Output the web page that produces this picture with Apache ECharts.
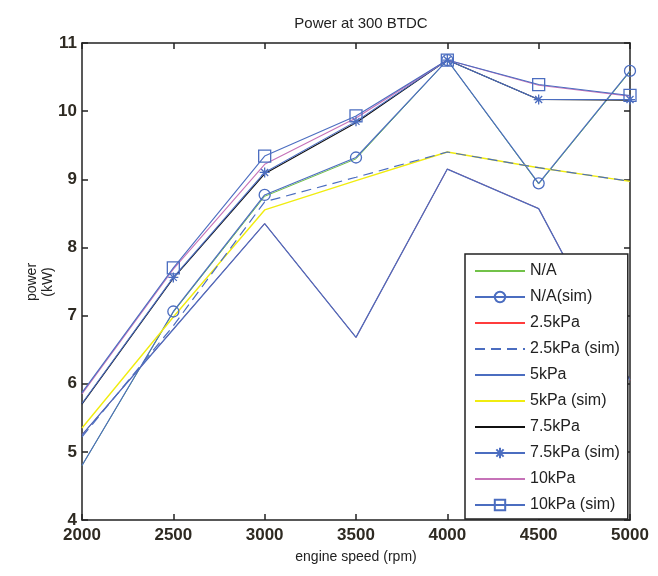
<!DOCTYPE html>
<html>
<head>
<meta charset="utf-8">
<script src="https://cdn.jsdelivr.net/npm/echarts@6/dist/echarts.min.js"></script>
<style>
html,body{margin:0;padding:0;background:#fff;}
#chart{width:658px;height:576px;}
</style>
</head>
<body>
<div id="chart"></div>
<script>
// ---- data ----
var speeds = [2000, 2500, 3000, 3500, 4000, 4500, 5000];
var xTicks = [2000, 2500, 3000, 3500, 4000, 4500, 5000];
var yTicks = [4, 5, 6, 7, 8, 9, 10, 11];
var naExp    = [4.80, 7.05, 8.75, 9.30, 10.75, 8.93, 10.58];
var naSim    = [4.80, 7.06, 8.77, 9.32, 10.75, 8.94, 10.59];
var p25Exp   = [5.25, 6.80, 8.35, 6.68, 9.15, 8.57, 6.05];
var p25Sim   = [5.22, 6.85, 8.67, 9.03, 9.40, 9.17, 8.97];
var p5Exp    = [5.25, 6.80, 8.35, 6.68, 9.15, 8.57, 6.05];
var p5Sim    = [5.35, 6.98, 8.55, 8.98, 9.40, 9.17, 8.97];
var p75Exp   = [5.70, 7.55, 9.08, 9.83, 10.75, 10.17, 10.16];
var p75Sim   = [5.71, 7.56, 9.10, 9.85, 10.75, 10.17, 10.17];
var p10Exp   = [5.85, 7.68, 9.22, 9.90, 10.75, 10.38, 10.22];
var p10Sim   = [5.87, 7.70, 9.34, 9.93, 10.75, 10.39, 10.23];
var seriesNames = ['N/A', 'N/A(sim)', '2.5kPa', '2.5kPa (sim)', '5kPa', '5kPa (sim)', '7.5kPa', '7.5kPa (sim)', '10kPa', '10kPa (sim)'];

function pts(arr) {
  return speeds.map(function (s, i) {
    var d = { value: [s, arr[i]] };
    if (s === xTicks[0]) d.symbol = 'none'; // marker hidden at the clipped left edge
    return d;
  });
}

var BLUE = '#4b6dc0', GREEN = '#72c249', RED = '#ff3c3c', YELLOW = '#f0ec10', BLACK = '#111', MAG = '#c672b8';
var STAR = 'path://M5 0L5 10M0 5L10 5M1.5 1.5L8.5 8.5M8.5 1.5L1.5 8.5';

function mk(name, data, color, opts) {
  opts = opts || {};
  return {
    name: name, type: 'line', data: pts(data),
    xAxisIndex: 0, yAxisIndex: 0,
    z: opts.z || 2,
    symbol: opts.symbol || 'none',
    symbolSize: opts.size || 10,
    showSymbol: !!opts.symbol,
    animation: false,
    lineStyle: { color: color, width: opts.width || 1.1, type: opts.dash ? [10, 6] : 'solid' },
    itemStyle: opts.symbol
      ? { color: 'rgba(0,0,0,0)', borderColor: color, borderWidth: 1.3 }
      : { color: 'rgba(0,0,0,0)', borderWidth: 0 },
    emphasis: { disabled: true }
  };
}

var series = [
  mk(seriesNames[0], naExp, GREEN, { width: 1 }),
  mk(seriesNames[1], naSim, BLUE, { symbol: 'circle', size: 11, width: 1.2 }),
  mk(seriesNames[2], p25Exp, RED, { width: 1 }),
  mk(seriesNames[3], p25Sim, BLUE, { dash: true, z: 3, width: 1.2 }),
  mk(seriesNames[4], p5Exp, BLUE, { width: 1.3 }),
  mk(seriesNames[5], p5Sim, YELLOW, { width: 1.4 }),
  mk(seriesNames[6], p75Exp, BLACK),
  mk(seriesNames[7], p75Sim, BLUE, { symbol: STAR, size: 10 }),
  mk(seriesNames[8], p10Exp, MAG),
  mk(seriesNames[9], p10Sim, BLUE, { symbol: 'rect', size: 12 })
];

var FONT = 'Liberation Sans';

function tick(v) { return String(v); }

var chart = echarts.init(document.getElementById('chart'), null, { renderer: 'canvas' });
chart.setOption({
  backgroundColor: '#fff',
  animation: false,
  title: {
    text: 'Power at 300 BTDC', left: 356, top: 11, textAlign: 'center',
    textStyle: { fontFamily: FONT, fontSize: 15, fontWeight: 'normal', color: '#222' }
  },
  graphic: [{
    type: 'text', x: 40, y: 282, rotation: Math.PI / 2,
    style: {
      text: 'power\n(kW)', fontFamily: FONT, fontSize: 14, lineHeight: 16,
      fill: '#222', align: 'center', verticalAlign: 'middle'
    }
  }],
  grid: { left: 82, right: 28, top: 43, bottom: 56, containLabel: false },
  xAxis: [{
    type: 'value', min: 2000, max: 5000, interval: 500,
    name: 'engine speed (rpm)', nameLocation: 'middle', nameGap: 30,
    nameTextStyle: { fontFamily: FONT, fontSize: 14, color: '#222' },
    axisLine: { lineStyle: { color: '#222', width: 1.5 } },
    axisTick: { inside: true, length: 6, lineStyle: { color: '#222', width: 1.5 } },
    axisLabel: { fontFamily: FONT, fontSize: 17, fontWeight: 'bold', color: '#2e2a22', margin: 7, formatter: tick },
    splitLine: { show: false }
  }, {
    type: 'value', min: 2000, max: 5000, interval: 500, position: 'top',
    axisLine: { lineStyle: { color: '#222', width: 1.5 } },
    axisTick: { inside: true, length: 6, lineStyle: { color: '#222', width: 1.5 } },
    axisLabel: { show: false }, splitLine: { show: false }
  }],
  yAxis: [{
    type: 'value', min: 4, max: 11, interval: 1,
    axisLine: { lineStyle: { color: '#222', width: 1.5 } },
    axisTick: { inside: true, length: 6, lineStyle: { color: '#222', width: 1.5 } },
    axisLabel: { fontFamily: FONT, fontSize: 17, fontWeight: 'bold', color: '#2e2a22', margin: 5, formatter: tick },
    splitLine: { show: false }
  }, {
    type: 'value', min: 4, max: 11, interval: 1, position: 'right',
    axisLine: { show: true, lineStyle: { color: '#222', width: 1.5 } },
    axisTick: { show: true, inside: true, length: 6, lineStyle: { color: '#222', width: 1.5 } },
    axisLabel: { show: false }, splitLine: { show: false }
  }],
  legend: {
    orient: 'vertical', left: 465, top: 254,
    data: seriesNames,
    backgroundColor: '#fff', borderColor: '#222', borderWidth: 1.5,
    padding: [9, 8, 6, 9],
    itemWidth: 50, itemHeight: 13, itemGap: 10,
    textStyle: { fontFamily: FONT, fontSize: 16, color: '#222' },
    selectedMode: false,
    z: 10
  },
  series: series
});
</script>
</body>
</html>
